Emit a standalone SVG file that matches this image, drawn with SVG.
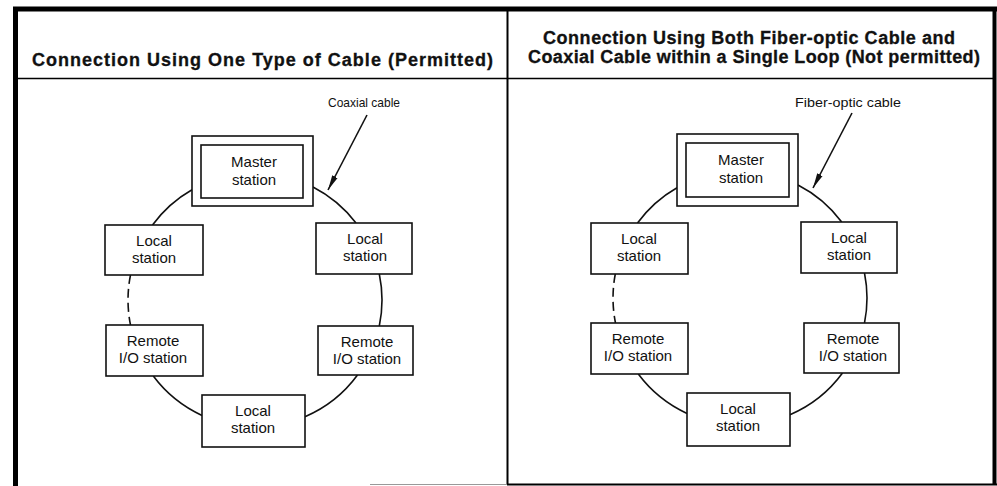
<svg xmlns="http://www.w3.org/2000/svg" width="997" height="486" viewBox="0 0 997 486">
  <style>
    .frame { stroke: #000; fill: none; }
    .title { font-family: "Liberation Sans", Arial, sans-serif; font-weight: bold; font-size: 18px; fill: #111; stroke: #111; stroke-width: 0.3; }
    .box { fill: #fff; stroke: #111; stroke-width: 1.6; }
    .lbl { font-family: "Liberation Sans", Arial, sans-serif; font-size: 15px; fill: #111; text-anchor: middle; }
    .note { font-family: "Liberation Sans", Arial, sans-serif; font-size: 13.5px; fill: #111; text-anchor: middle; }
    .loop { fill: none; stroke: #111; stroke-width: 1.6; }
    .dash { stroke-dasharray: 9 5; }
    .lead { stroke: #111; stroke-width: 1.6; fill: none; marker-end: url(#tip); }
  </style>
  <defs>
    <marker id="tip" markerUnits="userSpaceOnUse" markerWidth="16" markerHeight="8" refX="15" refY="4" orient="auto">
      <path d="M0,1 L15,4 L0,7 Z" fill="#111"/>
    </marker>
  </defs>

  <rect width="997" height="486" fill="#fff"/>

  <!-- table frame -->
  <g id="frame" class="frame">
    <line x1="15.5" y1="7" x2="15.5" y2="486" stroke-width="5"/>
    <line x1="13" y1="9" x2="997" y2="9" stroke-width="5"/>
    <line x1="994.5" y1="7" x2="994.5" y2="484" stroke-width="4"/>
    <line x1="15" y1="78.5" x2="995" y2="78.5" stroke-width="1.5"/>
    <line x1="507.5" y1="9" x2="507.5" y2="485" stroke-width="2"/>
    <line x1="370" y1="484.5" x2="507" y2="484.5" stroke="#999" stroke-width="1.2"/>
    <line x1="507" y1="484.5" x2="997" y2="484.5" stroke-width="2.2"/>
  </g>

  <!-- column headings -->
  <g id="headings">
    <text class="title" x="32" y="66" textLength="461" lengthAdjust="spacing">Connection Using One Type of Cable (Permitted)</text>
    <text class="title" x="543" y="44" textLength="412" lengthAdjust="spacing">Connection Using Both Fiber-optic Cable and</text>
    <text class="title" x="528" y="63" textLength="452" lengthAdjust="spacing">Coaxial Cable within a Single Loop (Not permitted)</text>
  </g>

  <!-- loop cabling -->
  <g id="connectors">
    <!-- left loop, centre (255,300) r 127 -->
    <path class="loop" d="M192,189.7 A127,127 0 0 0 152.5,225"/>
    <path class="loop" d="M313,187 A127,127 0 0 1 356,223"/>
    <path class="loop" d="M379.3,274 A127,127 0 0 1 379.3,326"/>
    <path class="loop" d="M357.5,375 A127,127 0 0 1 305,416.7"/>
    <path class="loop" d="M202,415.4 A127,127 0 0 1 153.3,376"/>
    <path class="loop dash" d="M130.5,275 A127,127 0 0 0 130.5,325"/>
    <!-- right loop, centre (740,298) r 127 -->
    <path class="loop" d="M677,187.7 A127,127 0 0 0 637.5,223"/>
    <path class="loop" d="M798,185 A127,127 0 0 1 841.7,222"/>
    <path class="loop" d="M864.5,273 A127,127 0 0 1 864.5,323"/>
    <path class="loop" d="M842.5,373 A127,127 0 0 1 790,414.7"/>
    <path class="loop" d="M687,413.4 A127,127 0 0 1 638.3,374"/>
    <path class="loop dash" d="M615.3,274 A127,127 0 0 0 615.5,323"/>
    <!-- cable callouts -->
    <line class="lead" x1="367" y1="115" x2="328" y2="190"/>
    <line class="lead" x1="852" y1="113" x2="813" y2="188"/>
  </g>

  <g id="note-coaxial">
    <text class="note" x="364" y="107" textLength="72" lengthAdjust="spacingAndGlyphs">Coaxial cable</text>
  </g>
  <g id="note-fiber">
    <text class="note" x="848" y="107" textLength="106" lengthAdjust="spacingAndGlyphs">Fiber-optic cable</text>
  </g>

  <!-- left column stations -->
  <g id="L-master">
    <rect class="box" x="192" y="136" width="121" height="70"/>
    <rect class="box" x="201" y="145" width="102" height="53"/>
    <text class="lbl" x="254" y="167">Master</text>
    <text class="lbl" x="254" y="185">station</text>
  </g>
  <g id="L-local-1">
    <rect class="box" x="105" y="225" width="98" height="50"/>
    <text class="lbl" x="154" y="246">Local</text>
    <text class="lbl" x="154" y="263">station</text>
  </g>
  <g id="L-local-2">
    <rect class="box" x="316" y="223" width="96" height="51"/>
    <text class="lbl" x="365" y="244">Local</text>
    <text class="lbl" x="365" y="261">station</text>
  </g>
  <g id="L-remote-1">
    <rect class="box" x="106" y="325" width="97" height="51"/>
    <text class="lbl" x="153" y="346">Remote</text>
    <text class="lbl" x="153" y="363">I/O station</text>
  </g>
  <g id="L-remote-2">
    <rect class="box" x="318" y="326" width="95" height="49"/>
    <text class="lbl" x="367" y="347">Remote</text>
    <text class="lbl" x="367" y="364">I/O station</text>
  </g>
  <g id="L-local-3">
    <rect class="box" x="202" y="395" width="103" height="52"/>
    <text class="lbl" x="253" y="416">Local</text>
    <text class="lbl" x="253" y="433">station</text>
  </g>

  <!-- right column stations -->
  <g id="R-master">
    <rect class="box" x="677" y="134" width="121" height="72"/>
    <rect class="box" x="686" y="143" width="103" height="54"/>
    <text class="lbl" x="741" y="165">Master</text>
    <text class="lbl" x="741" y="183">station</text>
  </g>
  <g id="R-local-1">
    <rect class="box" x="591" y="223" width="97" height="51"/>
    <text class="lbl" x="639" y="244">Local</text>
    <text class="lbl" x="639" y="261">station</text>
  </g>
  <g id="R-local-2">
    <rect class="box" x="801" y="222" width="96" height="51"/>
    <text class="lbl" x="849" y="243">Local</text>
    <text class="lbl" x="849" y="260">station</text>
  </g>
  <g id="R-remote-1">
    <rect class="box" x="591" y="323" width="97" height="51"/>
    <text class="lbl" x="638" y="344">Remote</text>
    <text class="lbl" x="638" y="361">I/O station</text>
  </g>
  <g id="R-remote-2">
    <rect class="box" x="804" y="323" width="95" height="50"/>
    <text class="lbl" x="853" y="344">Remote</text>
    <text class="lbl" x="853" y="361">I/O station</text>
  </g>
  <g id="R-local-3">
    <rect class="box" x="687" y="393" width="103" height="53"/>
    <text class="lbl" x="738" y="414">Local</text>
    <text class="lbl" x="738" y="431">station</text>
  </g>
</svg>
